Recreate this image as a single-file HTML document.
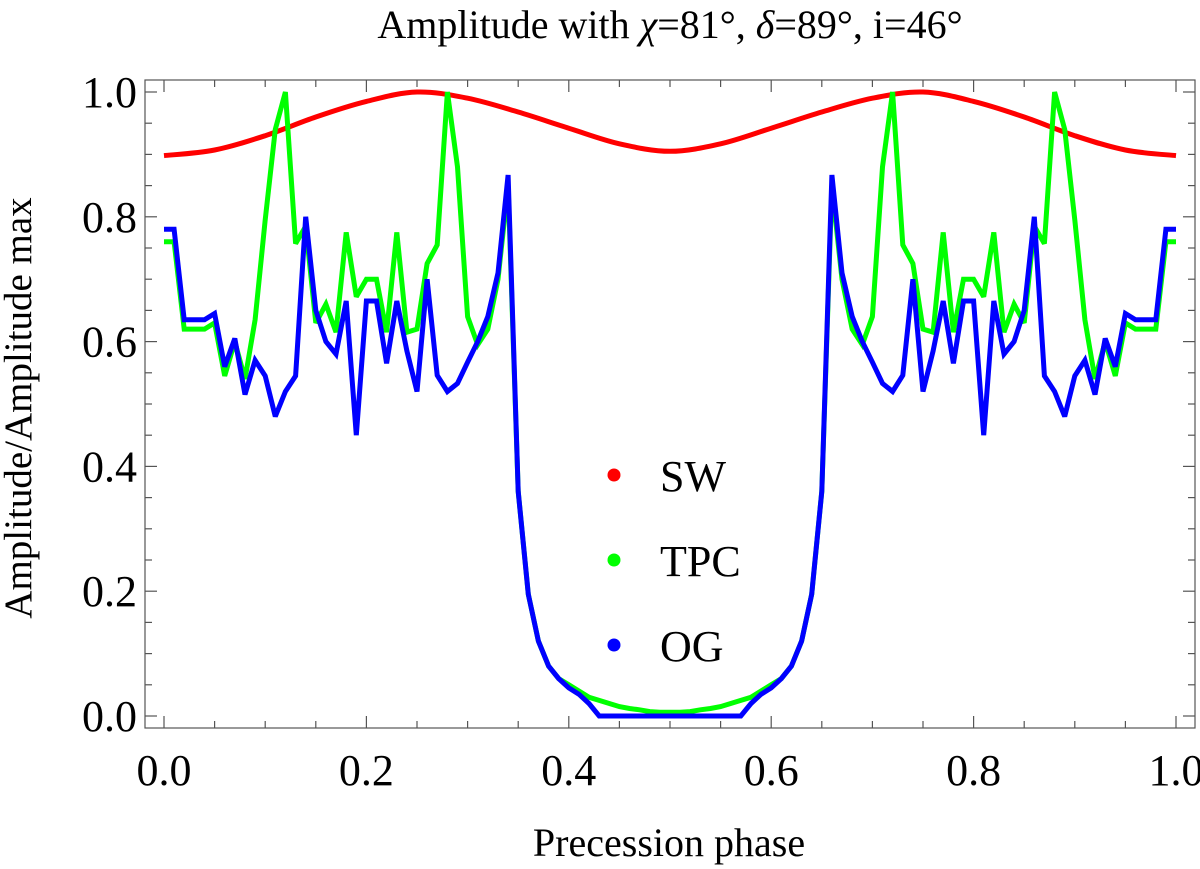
<!DOCTYPE html>
<html><head><meta charset="utf-8"><style>
body{margin:0;background:#fff}
svg{display:block;font-family:"Liberation Serif",serif}
</style></head><body>
<svg id="chart" width="1200" height="869" viewBox="0 0 1200 869"></svg>
<script>
const phases = [];
for (let k = 0; k <= 100; k++) phases.push(k / 100);
const ogValues = [0.78,0.78,0.635,0.635,0.635,0.645,0.56,0.605,0.515,0.57,0.545,0.48,0.52,0.545,0.80,0.65,0.60,0.58,0.665,0.45,0.665,0.665,0.565,0.665,0.585,0.52,0.70,0.546,0.52,0.533,0.567,0.60,0.64,0.71,0.867,0.36,0.195,0.12,0.08,0.06,0.045,0.035,0.02,0,0,0,0,0,0,0,0,
0,0,0,0,0,0,0,0.02,0.035,0.045,0.06,0.08,0.12,0.195,0.36,0.867,0.71,0.64,0.60,0.567,0.533,0.52,0.546,0.70,0.52,0.585,0.665,0.565,0.665,0.665,0.45,0.665,0.58,0.60,0.65,0.80,0.545,0.52,0.48,0.545,0.57,0.515,0.605,0.56,0.645,0.635,0.635,0.635,0.78,0.78];
const tpcValues = [0.76,0.76,0.62,0.62,0.62,0.63,0.545,0.60,0.54,0.635,0.795,0.94,1.0,0.757,0.785,0.63,0.66,0.615,0.775,0.672,0.70,0.70,0.615,0.775,0.615,0.62,0.725,0.755,1.0,0.88,0.64,0.595,0.62,0.70,0.85,0.36,0.195,0.12,0.08,0.06,0.05,0.04,0.03,0.025,0.02,0.015,0.012,0.01,0.007,0.006,0.006,
0.006,0.007,0.01,0.012,0.015,0.02,0.025,0.03,0.04,0.05,0.06,0.08,0.12,0.195,0.36,0.85,0.70,0.62,0.595,0.64,0.88,1.0,0.755,0.725,0.62,0.615,0.775,0.615,0.70,0.70,0.672,0.775,0.615,0.66,0.63,0.785,0.757,1.0,0.94,0.795,0.635,0.54,0.60,0.545,0.63,0.62,0.62,0.62,0.76,0.76];
const swPhases = [0,0.05,0.1,0.15,0.2,0.25,0.3,0.35,0.4,0.45,0.5,0.55,0.6,0.65,0.7,0.75,0.8,0.85,0.9,0.95,1.0];
const swValues = [0.898,0.907,0.93,0.96,0.985,1.0,0.99,0.968,0.942,0.917,0.905,0.917,0.942,0.968,0.99,1.0,0.985,0.96,0.93,0.907,0.898];
const xTickLabels = ["0.0","0.2","0.4","0.6","0.8","1.0"];
const yTickLabels = ["0.0","0.2","0.4","0.6","0.8","1.0"];
const legendLabels = ["SW","TPC","OG"];
const legendColors = ["#ff0000","#00ff00","#0000ff"];

const NS = "http://www.w3.org/2000/svg";
const svg = document.getElementById("chart");
const L=145,R=1195,T=80,B=728;
const xs = v => 164 + v*1012;
const ys = v => 716 - v*624;
function mk(tag, attrs, parent){const e=document.createElementNS(NS,tag);for(const k in attrs)e.setAttribute(k,attrs[k]);(parent||svg).appendChild(e);return e;}

const title = mk("text",{x:670,y:38,"text-anchor":"middle","font-size":40});


title.innerHTML = 'Amplitude with <tspan font-style="italic">χ</tspan>=81°, <tspan font-style="italic">δ</tspan>=89°, i=46°';

const frame = mk("rect",{x:L,y:T,width:R-L,height:B-T,fill:"none",stroke:"#555","stroke-width":1.2});



const ticks = mk("g",{stroke:"#555","stroke-width":1.2});


for(let k=0;k<=20;k++){
  const x=xs(k*0.05), len=(k%4===0)?12:7;
  mk("line",{x1:x,y1:B,x2:x,y2:B-len},ticks);
  mk("line",{x1:x,y1:T,x2:x,y2:T+len},ticks);
  const y=ys(k*0.05);
  mk("line",{x1:L,y1:y,x2:L+len,y2:y},ticks);
  mk("line",{x1:R,y1:y,x2:R-len,y2:y},ticks);
}
xTickLabels.forEach(t=>{
  const e=mk("text",{x:xs(parseFloat(t)),y:785,"text-anchor":"middle","font-size":44},svg);
  
  
  e.textContent=t;
});
yTickLabels.forEach(t=>{
  const e=mk("text",{x:137,y:ys(parseFloat(t))+15,"text-anchor":"end","font-size":44},svg);
  
  
  e.textContent=t;
});
const xt=mk("text",{x:669,y:856,"text-anchor":"middle","font-size":40});


xt.textContent="Precession phase";
const yt=mk("text",{x:0,y:0,"text-anchor":"middle","font-size":39,transform:"translate(31,408) rotate(-90)"});


yt.textContent="Amplitude/Amplitude max";

function line(px,vals,color,name,smooth){
  const P=vals.map((v,i)=>[xs(px[i]),ys(v)]);
  let d="M"+P[0][0].toFixed(1)+","+P[0][1].toFixed(1);
  for(let i=1;i<P.length;i++){
    if(!smooth){d+=" L"+P[i][0].toFixed(1)+","+P[i][1].toFixed(1);continue;}
    const p0=P[Math.max(0,i-2)],p1=P[i-1],p2=P[i],p3=P[Math.min(P.length-1,i+1)];
    const c1=[p1[0]+(p2[0]-p0[0])/6,p1[1]+(p2[1]-p0[1])/6];
    const c2=[p2[0]-(p3[0]-p1[0])/6,p2[1]-(p3[1]-p1[1])/6];
    d+=" C"+c1[0].toFixed(1)+","+c1[1].toFixed(1)+" "+c2[0].toFixed(1)+","+c2[1].toFixed(1)+" "+p2[0].toFixed(1)+","+p2[1].toFixed(1);
  }
  const p=mk("path",{d:d,fill:"none",stroke:color,"stroke-width":5,"stroke-linejoin":"miter","stroke-miterlimit":3});
  
  
}
line(swPhases,swValues,"#ff0000","sw-line",true);
line(phases,tpcValues,"#00ff00","tpc-line",false);
line(phases,ogValues,"#0000ff","og-line",false);

legendLabels.forEach((lab,i)=>{
  const g=mk("g",{});
  
  
  const y=475+i*85;
  mk("circle",{cx:614,cy:y,r:6.5,fill:legendColors[i]},g);
  const t=mk("text",{x:660,y:y+16,"font-size":44},g);
  t.textContent=lab;
});
</script>
</body></html>
